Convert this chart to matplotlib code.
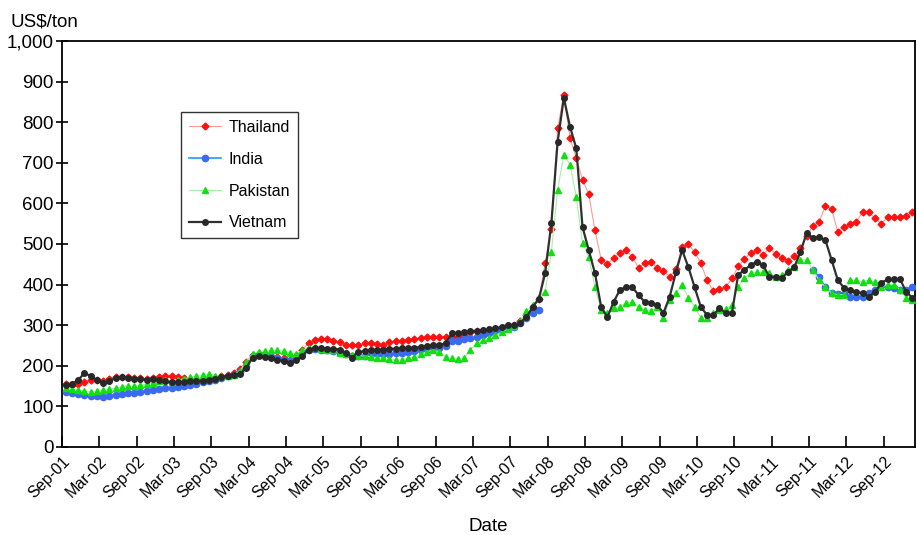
import numpy as np
import matplotlib
matplotlib.use('Agg')
import matplotlib.pyplot as plt

# monthly export prices, Sep-01 .. Jan-13 (US$/ton)
thailand = [155, 152, 155, 160, 166, 164,
            162, 168, 172, 172, 173, 170,
            170, 168, 170, 172, 175, 174,
            173, 171, 168, 166, 166, 168,
            170, 174, 178, 182, 192, 210,
            226, 230, 228, 225, 222, 218,
            215, 225, 240, 255, 263, 266,
            265, 262, 258, 252, 250, 252,
            255, 256, 254, 252, 258, 262,
            262, 264, 266, 268, 270, 271,
            272, 272, 271, 270, 276, 282,
            285, 286, 288, 290, 292, 296,
            300, 310, 325, 345, 365, 453,
            537, 785, 867, 761, 712, 658,
            623, 534, 461, 451, 465, 478,
            485, 468, 441, 453, 456, 441,
            434, 419, 438, 493, 500, 480,
            453, 411, 384, 389, 394, 415,
            445, 463, 478, 486, 473, 490,
            476, 465, 458, 470, 490, 520,
            545, 554, 594, 587, 530, 542,
            550, 554, 580, 578, 563, 550,
            566, 566, 566, 568, 580]

india = [135, 133, 130, 128, 126, 125,
         124, 126, 128, 130, 132, 134,
         135, 137, 140, 142, 145, 146,
         148, 150, 153, 156, 160, 163,
         165, 170, 174, 178, 185, 200,
         222, 228, 226, 222, 218, 215,
         212, 220, 232, 240, 242, 240,
         238, 236, 232, 228, 225, 225,
         225, 226, 228, 228, 230, 232,
         232, 234, 236, 238, 240, 242,
         245, 248, 260, 262, 265, 268,
         270, 275, 280, 285, 288, 292,
         296, 305, 318, 330, 338] + [np.nan] * 43 + [
         436, 419, 394, 379, 376, 376,
         370, 370, 370, 379, 387, 399,
         395, 392, 387, 387, 394]

pakistan = [145, 142, 140, 138, 136, 138,
            140, 142, 145, 148, 150, 150,
            152, 155, 158, 162, 165, 160,
            165, 168, 172, 175, 178, 180,
            176, 174, 175, 178, 188, 210,
            230, 235, 236, 238, 238, 236,
            232, 230, 238, 245, 246, 242,
            240, 238, 232, 228, 226, 225,
            224, 222, 220, 218, 216, 215,
            215, 218, 222, 228, 235, 238,
            235, 222, 218, 216, 220, 240,
            255, 263, 268, 275, 282, 290,
            298, 310, 335, 350, 370, 382,
            480, 633, 719, 695, 616, 502,
            468, 394, 337, 330, 342, 345,
            355, 357, 345, 337, 335, 345,
            318, 362, 379, 399, 367, 345,
            318, 318, 330, 337, 340, 350,
            394, 416, 428, 430, 430, 428,
            419, 424, 435, 443, 461, 461,
            436, 411, 394, 379, 375, 375,
            411, 411, 406, 411, 406, 394,
            400, 400, 387, 367, 362]

vietnam = [152, 155, 165, 182, 175, 165,
           158, 162, 170, 172, 170, 168,
           168, 166, 168, 166, 162, 160,
           160, 160, 162, 162, 163, 165,
           168, 172, 176, 178, 180, 195,
           220, 225, 222, 218, 215, 212,
           208, 214, 225, 240, 244, 243,
           242, 242, 240, 232, 220, 234,
           236, 238, 240, 240, 242, 242,
           243, 244, 245, 246, 248, 250,
           252, 255, 280, 281, 282, 285,
           286, 288, 290, 292, 296, 300,
           300, 305, 320, 345, 365, 428,
           551, 751, 860, 788, 736, 542,
           485, 428, 345, 320, 357, 387,
           394, 394, 374, 357, 355, 350,
           330, 370, 430, 485, 443, 394,
           345, 325, 325, 342, 330, 330,
           424, 436, 448, 456, 448, 419,
           419, 416, 431, 443, 480, 527,
           515, 517, 510, 461, 411, 392,
           387, 382, 379, 370, 382, 404,
           413, 413, 413, 382, 367]

tick_labels = ['Sep-01', 'Mar-02', 'Sep-02', 'Mar-03', 'Sep-03', 'Mar-04',
               'Sep-04', 'Mar-05', 'Sep-05', 'Mar-06', 'Sep-06', 'Mar-07',
               'Sep-07', 'Mar-08', 'Sep-08', 'Mar-09', 'Sep-09', 'Mar-10',
               'Sep-10', 'Mar-11', 'Sep-11', 'Mar-12', 'Sep-12']

plt.rcParams['font.family'] = ['Liberation Sans', 'DejaVu Sans']

fig = plt.figure(figsize=(9.17, 5.35), dpi=100)
ax = fig.add_axes([0.0676, 0.1645, 0.9302, 0.7589])

t = np.arange(len(thailand)) + 0.6

ax.plot(t, thailand, color='#ff9a9a', lw=0.8, marker='D', ms=3.5,
        mfc='#ff1010', mec='#ff1010', label='Thailand', zorder=2)
ax.plot(t, india, color='#1e9bff', lw=1.2, marker='o', ms=4.5,
        mfc='#3a6af0', mec='#3a6af0', label='India', zorder=3)
ax.plot(t, pakistan, color='#a8f0a8', lw=0.8, marker='^', ms=4,
        mfc='#10e010', mec='#10e010', label='Pakistan', zorder=4)
ax.plot(t, vietnam, color='#303030', lw=1.6, marker='o', ms=4,
        mfc='#282828', mec='#282828', label='Vietnam', zorder=5)

ax.set_xlim(0, 137)
ax.set_ylim(0, 1000)
ax.set_xticks(np.arange(0, 133, 6))
ax.set_xticklabels(tick_labels, rotation=45, ha='right', rotation_mode='anchor',
                   fontsize=11.5)
ax.set_yticks(np.arange(0, 1001, 100))
ax.set_yticklabels(['{:,}'.format(v) for v in range(0, 1001, 100)], fontsize=13.5)
ax.tick_params(axis='x', direction='in', length=8, width=1.2, pad=5)
ax.tick_params(axis='y', direction='inout', length=8, width=1.2, pad=2)
for s in ax.spines.values():
    s.set_linewidth(1.3)

ax.set_xlabel('Date', fontsize=13.5, labelpad=12)
fig.text(0.011, 0.943, 'US$/ton', fontsize=13.5, ha='left', va='bottom')

leg = ax.legend(loc='upper left', bbox_to_anchor=(0.1395, 0.825), frameon=True,
                fancybox=False, edgecolor='black', fontsize=11.5,
                labelspacing=1.05, handlelength=2.0, handletextpad=0.5,
                borderpad=0.5, borderaxespad=0)
leg.get_frame().set_linewidth(1.0)

fig.savefig('out.png', dpi=100)
